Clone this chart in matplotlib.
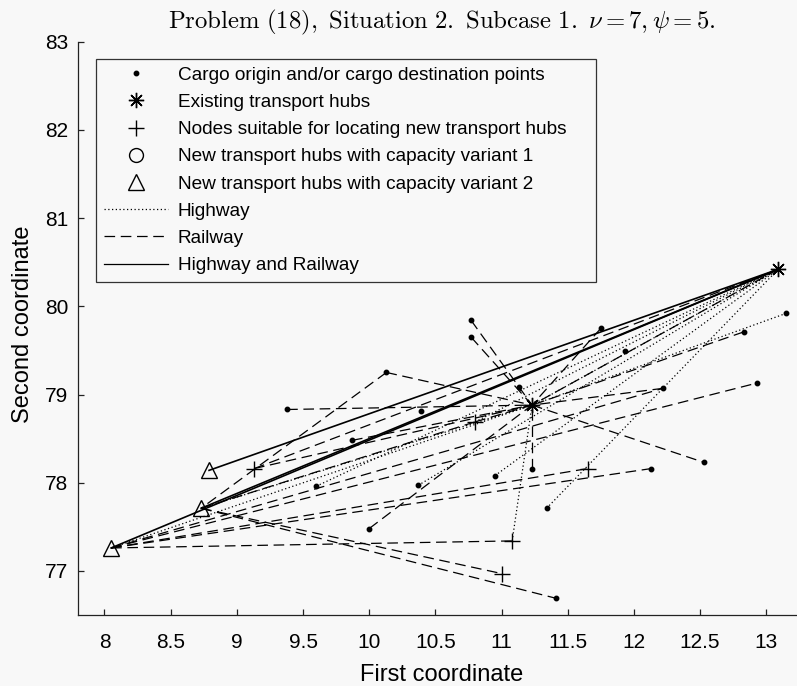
import numpy as np
import matplotlib
matplotlib.use('Agg')
import matplotlib.pyplot as plt
from matplotlib.lines import Line2D

plt.rcParams['font.family'] = ['Liberation Sans', 'DejaVu Sans']
plt.rcParams['mathtext.fontset'] = 'cm'

# Cargo origin / destination points
cargo_x = [10.77, 10.77, 11.75, 13.15, 12.83, 11.93, 11.13, 12.22, 12.93, 10.39, 12.53,
           11.23, 12.13, 10.95, 10.37, 11.34, 11.41, 10.13, 9.38, 9.87, 9.60, 10.00]
cargo_y = [79.84, 79.65, 79.75, 79.92, 79.71, 79.49, 79.09, 79.07, 79.13, 78.81, 78.23,
           78.16, 78.16, 78.08, 77.97, 77.71, 76.69, 79.25, 78.83, 78.48, 77.96, 77.48]

# Existing transport hubs
hub_x = [13.09, 11.23]
hub_y = [80.42, 78.88]

# Nodes suitable for new hubs
cand_x = [9.13, 10.80, 11.65, 11.08, 11.00]
cand_y = [78.16, 78.69, 78.16, 77.34, 76.97]

# New hubs, capacity variant 1 (none) and variant 2
new1_x = []
new1_y = []
new2_x = [8.05, 8.73, 8.79]
new2_y = [77.26, 77.71, 78.14]

# Links: C = cargo point, H = hub, P = candidate node, T = new hub (variant 2)
highway_links = [('C14', 'H1'), ('C15', 'H1'), ('C16', 'H1'), ('C21', 'H1'),
                 ('P2', 'H1'), ('P4', 'H2'), ('C4', 'H2'), ('T1', 'H2'),
                 ('T2', 'H2'), ('H2', 'H1')]
railway_links = [('C19', 'H2'), ('C18', 'H2'), ('C18', 'T2'), ('C1', 'H2'),
                 ('C2', 'H2'), ('C3', 'H2'), ('C5', 'H2'), ('C8', 'H2'),
                 ('C12', 'H2'), ('C22', 'H2'), ('C20', 'H2'), ('H2', 'C11'),
                 ('H1', 'H2'), ('P1', 'H1'), ('P1', 'H2'), ('T2', 'P2'),
                 ('P2', 'H2'), ('T1', 'C9'), ('T1', 'C13'), ('T1', 'P3'),
                 ('T1', 'P4'), ('T2', 'P5'), ('T2', 'C17'), ('T1', 'C8')]
both_links = [('T3', 'H1'), ('T1', 'H1'), ('T2', 'H1')]

x_ticks = [8, 8.5, 9, 9.5, 10, 10.5, 11, 11.5, 12, 12.5, 13]
x_tick_labels = ['8', '8.5', '9', '9.5', '10', '10.5', '11', '11.5', '12', '12.5', '13']
y_ticks = [77, 78, 79, 80, 81, 82, 83]

nodes = {}
for i in range(len(cargo_x)):
    nodes['C%d' % (i + 1)] = (cargo_x[i], cargo_y[i])
for i in range(len(hub_x)):
    nodes['H%d' % (i + 1)] = (hub_x[i], hub_y[i])
for i in range(len(cand_x)):
    nodes['P%d' % (i + 1)] = (cand_x[i], cand_y[i])
for i in range(len(new2_x)):
    nodes['T%d' % (i + 1)] = (new2_x[i], new2_y[i])

bg = '#f8f8f8'
fig = plt.figure(figsize=(7.97, 6.86), dpi=100, facecolor=bg)
ax = fig.add_axes([0.0979, 0.1035, 0.9134, 0.8357], facecolor=bg)

dotted = (0, (1, 2))
dashed = (0, (8.5, 4.5))

def draw_links(links, ls, lw):
    for a, b in links:
        xa, ya = nodes[a]
        xb, yb = nodes[b]
        ax.plot([xa, xb], [ya, yb], color='k', linestyle=ls, linewidth=lw)

draw_links(highway_links, dotted, 0.9)
draw_links(railway_links, dashed, 0.9)
draw_links(both_links, '-', 1.2)

ax.plot(cargo_x, cargo_y, 'o', color='k', markersize=3.2, linestyle='none')
ax.plot(hub_x, hub_y, marker=(8, 2, 0), color='k', markersize=11, mew=1.0, linestyle='none')
ax.plot(cand_x, cand_y, '+', color='k', markersize=12, mew=1.0, linestyle='none')
ax.plot(new1_x, new1_y, 'o', color='k', mfc='none', markersize=10, linestyle='none')
ax.plot(new2_x, new2_y, '^', color='k', mfc='none', markersize=12, mew=1.0, linestyle='none')

ax.set_xlim(7.8, 13.3)
ax.set_ylim(76.5, 83)
ax.set_xticks(x_ticks)
ax.set_xticklabels(x_tick_labels)
ax.set_yticks(y_ticks)
ax.spines['top'].set_visible(False)
ax.spines['right'].set_visible(False)
for s in ['left', 'bottom']:
    ax.spines[s].set_color('#222222')
    ax.spines[s].set_linewidth(0.9)
ax.tick_params(axis='both', direction='in', length=4, width=0.9, labelsize=15, colors='#222222', labelcolor='k')
ax.tick_params(axis='x', pad=13)
ax.tick_params(axis='y', pad=7)

ax.set_xlabel('First coordinate', fontsize=17, va='center')
ax.xaxis.set_label_coords(0.5, -0.105)
ax.set_ylabel('Second coordinate', fontsize=17, va='center')
ax.yaxis.set_label_coords(-0.0755, 0.5076)

fig.text(442 / 797, 1 - 22 / 686,
         r'$\mathrm{Problem\ (18),\ Situation\ 2.\ Subcase\ 1.}\ \nu = 7, \psi = 5.$',
         ha='center', va='center', fontsize=17.8)

handles = [
    Line2D([], [], marker='o', color='k', markersize=3.2, linestyle='none'),
    Line2D([], [], marker=(8, 2, 0), color='k', markersize=11, mew=1.0, linestyle='none'),
    Line2D([], [], marker='+', color='k', markersize=12, mew=1.0, linestyle='none'),
    Line2D([], [], marker='o', color='k', mfc='none', markersize=10, linestyle='none'),
    Line2D([], [], marker='^', color='k', mfc='none', markersize=12, mew=1.0, linestyle='none'),
    Line2D([], [], color='k', linestyle=dotted, linewidth=0.9),
    Line2D([], [], color='k', linestyle=dashed, linewidth=0.9),
    Line2D([], [], color='k', linestyle='-', linewidth=0.9),
]
labels = ['Cargo origin and/or cargo destination points',
          'Existing transport hubs',
          'Nodes suitable for locating new transport hubs',
          'New transport hubs with capacity variant 1',
          'New transport hubs with capacity variant 2',
          'Highway', 'Railway', 'Highway and Railway']
# legend box spans px 96..596 horizontally
leg = ax.legend(handles, labels, loc='upper left',
                bbox_to_anchor=(0.0247, 0.0, 0.6868, 0.970), mode='expand',
                borderaxespad=0, fontsize=13.7, frameon=True, fancybox=False,
                framealpha=1, edgecolor='#333333', facecolor=bg,
                handlelength=3.4, handletextpad=0.5, labelspacing=0.52,
                borderpad=0.4)
leg.get_frame().set_linewidth(0.9)

fig.savefig('out.png', dpi=100, facecolor=bg)
